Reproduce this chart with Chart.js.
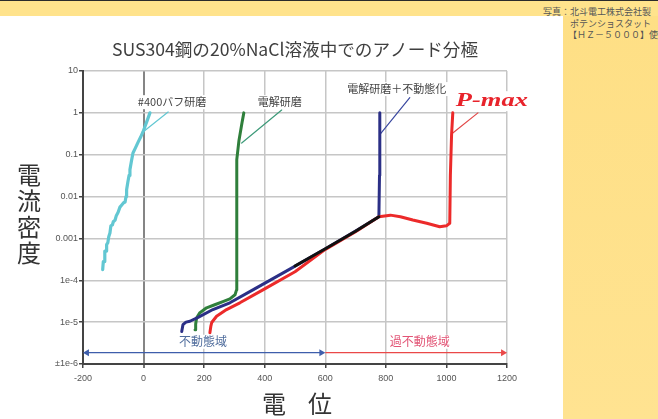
<!DOCTYPE html>
<html>
<head>
<meta charset="utf-8">
<script src="https://cdn.jsdelivr.net/npm/chart.js@4/dist/chart.umd.min.js"></script>
<style>
  html, body { margin: 0; padding: 0; width: 658px; height: 419px; overflow: hidden; background: #fff; }
  #topband { position: absolute; left: 0; top: 0; width: 658px; height: 16px; background: #FFE38C; border-top: 1px solid #2b2b2b; box-sizing: border-box; }
  #sidepanel { position: absolute; left: 563px; top: 16px; width: 95px; height: 403px; background: linear-gradient(#FEDF85, #FFE391); }
  #caption { position: absolute; left: 543px; top: 6px; font: 9px/11.5px "Noto Sans CJK JP", sans-serif; color: #555; white-space: nowrap; }
  #caption span { display: inline-block; }
  canvas { position: absolute; left: 0; top: 0; }
</style>
</head>
<body>
<div id="topband"></div>
<div id="sidepanel"></div>
<div id="caption">写真：北斗電工株式会社製<br><span style="padding-left:27px">ポテンショスタット</span><br><span style="padding-left:25px">【ＨＺ－５０００】使用</span></div>
<canvas id="c" width="658" height="419"></canvas>
<script>
// Axis ticks
const yTickValues = [1e-6, 1e-5, 1e-4, 1e-3, 1e-2, 1e-1, 1, 10];
const yTickLabels = ['±1e-6', '1e-5', '1e-4', '0.001', '0.01', '0.1', '1', '10'];

// Texts
const titleText = 'SUS304鋼の20%NaCl溶液中でのアノード分極';
const yTitleChars = ['電', '流', '密', '度'];
const xTitleChars = ['電', '位'];
const seriesNames = ['#400バフ研磨', '電解研磨', '電解研磨＋不動態化', 'P-max'];
const regionNames = ['不動態域', '過不動態域'];

// #400 buff polished (potential mV, current density)
const buffPotential = [-135, -133, -130, -128, -124, -122, -118, -115, -111, -108, -103, -100, -94, -90, -84, -78, -72, -66, -61, -58, -56, -52, -48, -45, -40, -35, -28, -18, -10, -2, 5, 10, 16, 21];
const buffCurrent = [1.8e-4, 2.8e-4, 2.8e-4, 5.0e-4, 5.0e-4, 7.1e-4, 7.9e-4, 1.1e-3, 1.35e-3, 2.0e-3, 2.1e-3, 2.5e-3, 2.75e-3, 3.5e-3, 4.2e-3, 5.6e-3, 6.3e-3, 7.1e-3, 7.4e-3, 1.0e-2, 1.45e-2, 2.2e-2, 3.2e-2, 4.4e-2, 7.1e-2, 0.11, 0.14, 0.20, 0.26, 0.35, 0.48, 0.60, 0.79, 1.0];

// Electropolished
const epPotential = [170, 172, 175, 185, 208, 235, 262, 285, 302, 307, 307, 308, 308, 308, 315, 325, 331];
const epCurrent = [6.6e-6, 8.9e-6, 1.26e-5, 1.66e-5, 2.2e-5, 2.6e-5, 3.1e-5, 3.6e-5, 4.5e-5, 5.9e-5, 3.2e-4, 3.2e-3, 3.2e-2, 7.6e-2, 0.22, 0.58, 1.0];

// Electropolished + passivated
const eppPotential = [126, 130, 140, 153, 180, 229, 285, 361, 480, 599, 700, 777, 779, 780, 780];
const eppCurrent = [6.0e-6, 8.7e-6, 1.0e-5, 1.05e-5, 1.3e-5, 2.0e-5, 2.9e-5, 5.9e-5, 1.8e-4, 5.6e-4, 1.5e-3, 3.3e-3, 3.2e-2, 0.33, 1.0];

// P-max
const pmaxPotential = [219, 222, 225, 241, 274, 318, 394, 500, 599, 700, 777, 815, 848, 889, 935, 978, 1000, 1011, 1013, 1017, 1021];
const pmaxCurrent = [5.6e-6, 7.9e-6, 9.8e-6, 1.38e-5, 2.0e-5, 2.9e-5, 5.9e-5, 1.6e-4, 5.4e-4, 1.45e-3, 3.3e-3, 3.6e-3, 3.3e-3, 2.75e-3, 2.3e-3, 1.9e-3, 2.0e-3, 2.3e-3, 3.2e-2, 0.30, 1.0];

// Shared passive segment
const commonPotential = [500, 599, 700, 777];
const commonCurrent = [2.2e-4, 5.6e-4, 1.48e-3, 3.3e-3];

// Leader lines from labels to curves
const leaderBuffX = [81, -6], leaderBuffY = [1.05, 0.33];
const leaderEpX = [456, 324], leaderEpY = [1.17, 0.19];
const leaderEppX = [879, 780], leaderEppY = [2.3, 0.30];
const leaderPmaxX = [1104, 1021], leaderPmaxY = [1.0, 0.33];

// Region arrows
const passiveRangeX = [-187, 587];
const transRangeX = [600, 1187];
const rangeLevel = 1.86e-6;

const pts = (xs, ys) => xs.map((x, i) => ({ x, y: ys[i] }));

function curve(label, xs, ys, color, width, order) {
  return { label, data: pts(xs, ys), borderColor: color, borderWidth: width, pointRadius: 0,
           fill: false, tension: 0, order, borderJoinStyle: 'round', borderCapStyle: 'round' };
}

const datasets = [
  curve('common', commonPotential, commonCurrent, '#111111', 3, 0),
  curve(seriesNames[3], pmaxPotential, pmaxCurrent, '#ec2a2a', 3, 1),
  curve(seriesNames[2], eppPotential, eppCurrent, '#2b2f86', 3, 2),
  curve(seriesNames[1], epPotential, epCurrent, '#2f7f3b', 3, 3),
  curve(seriesNames[0], buffPotential, buffCurrent, '#62c7d2', 3.2, 3),
  curve('leader0', leaderBuffX, leaderBuffY, '#62c7d2', 1.2, 5),
  curve('leader1', leaderEpX, leaderEpY, '#3d9a79', 1.2, 5),
  curve('leader2', leaderEppX, leaderEppY, '#3a48a0', 1.2, 5),
  curve('leader3', leaderPmaxX, leaderPmaxY, '#e24848', 1.2, 5),
  {
    label: 'passive', data: pts(passiveRangeX, [rangeLevel, rangeLevel]),
    borderColor: '#3e5eab', borderWidth: 1.3, fill: false, order: 4, clip: false,
    pointStyle: 'triangle', pointRadius: 4, pointRotation: [-90, 90],
    pointBackgroundColor: '#3e5eab', pointBorderWidth: 0
  },
  {
    label: 'transpassive', data: pts(transRangeX, [rangeLevel, rangeLevel]),
    borderColor: '#ea4848', borderWidth: 1.3, fill: false, order: 4, clip: false,
    pointStyle: 'triangle', pointRadius: [0, 4], pointRotation: [90, 90],
    pointBackgroundColor: '#ea4848', pointBorderWidth: 0
  }
];

// Label anchors in data units
const labelAnchors = [
  { text: seriesNames[0], x: 94, y: 1.8 },
  { text: seriesNames[1], x: 450, y: 1.8 },
  { text: seriesNames[2], x: 836, y: 3.7 }
];
const regionAnchors = [
  { text: regionNames[0], x: 196, y: 3.4e-6, color: '#4f6c9c' },
  { text: regionNames[1], x: 912, y: 3.4e-6, color: '#e25475' }
];

const textPlugin = {
  id: 'chartText',
  afterDraw(chart) {
    const { ctx, chartArea } = chart;
    const xs = chart.scales.x, ys = chart.scales.y;
    ctx.save();
    ctx.textAlign = 'center';
    ctx.textBaseline = 'middle';

    // Title
    ctx.fillStyle = '#3f3f3f';
    ctx.font = '17.6px "Noto Sans CJK JP"';
    ctx.fillText(titleText, (chartArea.left + chartArea.right) / 2, 49);

    // Axis titles
    ctx.fillStyle = '#333';
    ctx.font = '24px "Noto Sans CJK JP"';
    yTitleChars.forEach((ch, i) => ctx.fillText(ch, 29, 175 + i * 26));
    ctx.fillText(xTitleChars[0], 274, 404);
    ctx.fillText(xTitleChars[1], 320, 404);

    // Series labels with white boxes
    ctx.font = '11px "Noto Sans CJK JP"';
    labelAnchors.forEach(a => {
      const px = xs.getPixelForValue(a.x), py = ys.getPixelForValue(a.y);
      const w = ctx.measureText(a.text).width;
      ctx.fillStyle = '#fff';
      ctx.fillRect(px - w / 2 - 2, py - 7, w + 4, 14);
      ctx.fillStyle = '#444';
      ctx.fillText(a.text, px, py);
    });

    // P-max label
    {
      const px = xs.getPixelForValue(1150), py = ys.getPixelForValue(1.9);
      ctx.font = 'bold italic 22px "Liberation Serif"';
      const w = ctx.measureText(seriesNames[3]).width;
      ctx.fillStyle = '#fff';
      ctx.fillRect(px - 38, py - 10, 76, 20);
      ctx.save();
      ctx.translate(px, py);
      ctx.scale(72 / w, 0.85);
      ctx.fillStyle = '#e8232b';
      ctx.fillText(seriesNames[3], 0, 0);
      ctx.restore();
    }

    // Region labels
    ctx.font = '12px "Noto Sans CJK JP"';
    regionAnchors.forEach(a => {
      const px = xs.getPixelForValue(a.x), py = ys.getPixelForValue(a.y);
      const w = ctx.measureText(a.text).width;
      ctx.fillStyle = '#fff';
      ctx.fillRect(px - w / 2 - 2, py - 7, w + 4, 14);
      ctx.fillStyle = a.color;
      ctx.fillText(a.text, px, py);
    });
    ctx.restore();
  }
};

new Chart(document.getElementById('c'), {
  type: 'line',
  data: { datasets },
  options: {
    responsive: false,
    animation: false,
    devicePixelRatio: 1,
    events: [],
    layout: { padding: { top: 71, right: 151, left: 0, bottom: 0 } },
    plugins: { legend: { display: false }, title: { display: false }, tooltip: { enabled: false } },
    scales: {
      x: {
        type: 'linear', min: -200, max: 1200,
        afterFit: s => { s.height = 55; },
        ticks: { stepSize: 200, color: '#555', padding: 5,
                 font: { family: '"Liberation Sans", Arial, sans-serif', size: 9 },
                 callback: v => String(v) },
        grid: {
          color: c => (c.tick && c.tick.value === 0) ? '#858585' : '#c6c6c6',
          lineWidth: c => (c.tick && c.tick.value === 0) ? 2 : 1.5,
          tickColor: '#444', tickLength: 4, tickWidth: 1.5
        },
        border: { color: '#444', width: 2 }
      },
      y: {
        type: 'logarithmic', min: 1e-6, max: 10,
        afterFit: s => { s.width = 83; },
        afterBuildTicks: s => { s.ticks = yTickValues.map(v => ({ value: v })); },
        ticks: { color: '#555', padding: 1,
                 font: { family: '"Liberation Sans", Arial, sans-serif', size: 9 },
                 callback: v => { const i = yTickValues.indexOf(v); return i >= 0 ? yTickLabels[i] : ''; } },
        grid: { color: '#c6c6c6', lineWidth: 1.5, tickColor: '#444', tickLength: 4, tickWidth: 1.5 },
        border: { color: '#444', width: 2 }
      }
    }
  },
  plugins: [textPlugin]
});
</script>
</body>
</html>
